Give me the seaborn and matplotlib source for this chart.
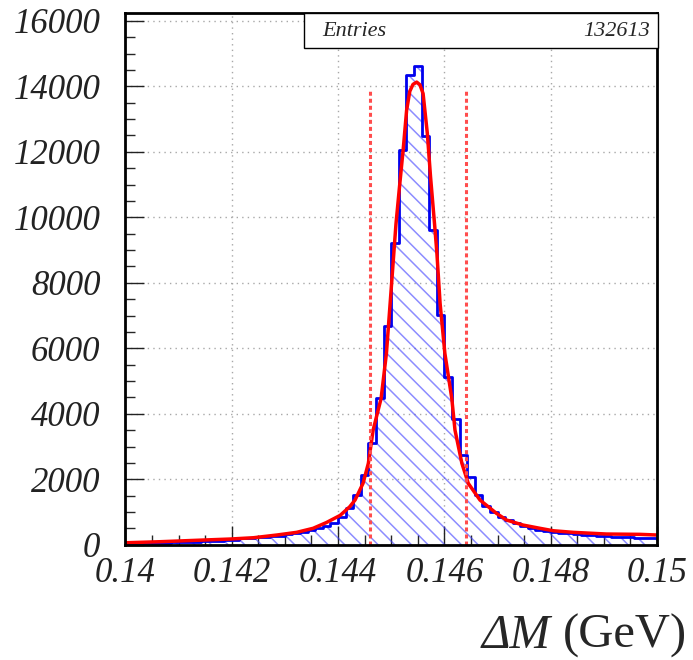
import numpy as np
import pandas as pd
import matplotlib
matplotlib.use('Agg')
import matplotlib.pyplot as plt
import seaborn as sns
from matplotlib.patches import Rectangle
from matplotlib.ticker import MultipleLocator

# histogram contents, 70 bins between 0.14 and 0.15 GeV
x_lo, x_hi = 0.14, 0.15
counts = [45, 50, 55, 60, 65, 70, 80, 90, 95, 100,
          110, 120, 130, 140, 150, 210, 220, 230, 250, 270,
          280, 330, 350, 400, 440, 500, 580, 656, 858, 1114,
          1520, 2131, 3098, 4472, 6679, 9203, 12051, 14362, 14615, 12479,
          9609, 7015, 5131, 3850, 2741, 2079, 1520, 1200, 1010, 860,
          757, 656, 574, 504, 452, 421, 382, 370, 351, 330,
          300, 290, 270, 270, 250, 250, 230, 200, 210, 200]

# fitted curve
fit_x = [0.14002, 0.14065, 0.14146, 0.14197, 0.14241, 0.14285, 0.14322, 0.14353,
         0.14378, 0.14404, 0.14422, 0.14432, 0.14447, 0.14457, 0.14466, 0.14481,
         0.14491, 0.14498, 0.14504, 0.14509, 0.14515, 0.14523, 0.14529, 0.14535,
         0.14541, 0.14548, 0.14554, 0.14560, 0.14568, 0.14574, 0.14582, 0.14586,
         0.14592, 0.14601, 0.14614, 0.14620, 0.14633, 0.14645, 0.14667, 0.14698,
         0.14717, 0.14748, 0.14780, 0.14805, 0.14843, 0.14905, 0.14968, 0.15000]
fit_y = [64, 95, 146, 177, 217, 300, 381, 504,
         680, 900, 1163, 1368, 1877, 2488, 3504, 4470,
         5845, 7370, 8700, 9800, 10830, 12150, 13270, 13850,
         14060, 14130, 14050, 13780, 12560, 11240, 9710, 8900,
         7370, 5845, 4470, 3504, 2488, 1877, 1368, 962,
         757, 604, 504, 430, 381, 330, 320, 300]

cut_lo, cut_hi = 0.1446, 0.1464
cut_top = 13900
entries = 132613

x_ticks = [0.14, 0.142, 0.144, 0.146, 0.148, 0.15]
x_labels = ['0.14', '0.142', '0.144', '0.146', '0.148', '0.15']
y_ticks = [0, 2000, 4000, 6000, 8000, 10000, 12000, 14000, 16000]
y_labels = [str(v) for v in y_ticks]
y_top = 16230

edges = np.linspace(x_lo, x_hi, len(counts) + 1)
centers = 0.5 * (edges[:-1] + edges[1:])
df = pd.DataFrame({'dm': centers, 'n': counts})

sns.set_style('white')
plt.rcParams['font.family'] = ['Liberation Serif', 'DejaVu Serif']
plt.rcParams['hatch.linewidth'] = 1.1

fig = plt.figure(figsize=(6.93, 6.6), dpi=100)
ax = fig.add_axes([0.181, 0.1745, 0.767, 0.8053])

ax.grid(True, which='major', color='#a8a8a8', linestyle=(0, (1, 3)), linewidth=1)
ax.set_axisbelow(True)

# hatched fill
ax.stairs(counts, edges, fill=True, facecolor='none',
          edgecolor=(0.25, 0.25, 1.0, 0.6), hatch='\\\\', linewidth=0)
sns.histplot(data=df, x='dm', weights='n', bins=len(counts), binrange=(x_lo, x_hi),
             element='step', fill=False, color='#0000ee', linewidth=2, ax=ax)
sns.lineplot(x=fit_x, y=fit_y, color='#ff0000', linewidth=2.5, ax=ax)
ax.vlines([cut_lo, cut_hi], 0, cut_top, colors='#ff4d4d',
          linestyles=(0, (1.3, 1.0)), linewidth=2.2)

ax.set_xlim(x_lo, x_hi)
ax.set_ylim(0, y_top)
ax.set_xlabel('')
ax.set_ylabel('')
ax.set_xticks(x_ticks, x_labels, fontstyle='italic')
ax.set_yticks(y_ticks, y_labels, fontstyle='italic')
ax.xaxis.set_minor_locator(MultipleLocator(0.0005))
ax.yaxis.set_minor_locator(MultipleLocator(500))
ax.tick_params(which='major', direction='in', length=14, width=1, labelsize=25,
               colors='#222222', bottom=True, left=True)
ax.tick_params(which='minor', direction='in', length=7, width=1,
               bottom=True, left=True)
ax.tick_params(axis='x', pad=9)
ax.tick_params(axis='y', pad=18)
for s in ax.spines.values():
    s.set_linewidth(2)
    s.set_color('black')

# stats box
fig.add_artist(Rectangle((304 / 693, 1 - 48 / 660), 354 / 693, 35 / 660,
                         transform=fig.transFigure, facecolor='white',
                         edgecolor='black', linewidth=1, zorder=5))
fig.text(322 / 693, 1 - 31 / 660, 'Entries', fontsize=16, fontstyle='italic',
         ha='left', va='center', zorder=6)
fig.text(650 / 693, 1 - 31 / 660, str(entries), fontsize=16, fontstyle='italic',
         ha='right', va='center', zorder=6)

# x title: italic symbol, upright unit
unit = fig.text(687 / 693, 12 / 660, '(GeV)', fontsize=35, ha='right', va='baseline')
fig.canvas.draw()
bb = unit.get_window_extent(fig.canvas.get_renderer())
fig.text((bb.x0 - 12) / 693, 12 / 660, 'ΔM', fontsize=35, fontstyle='italic',
         ha='right', va='baseline')

fig.savefig('out.png', dpi=100)
